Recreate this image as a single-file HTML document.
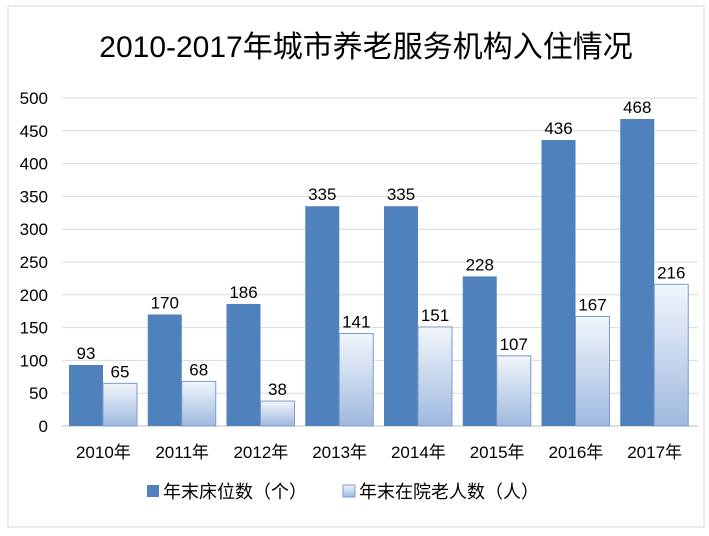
<!DOCTYPE html>
<html><head><meta charset="utf-8"><style>
body{margin:0;background:#fff;width:709px;height:531px;overflow:hidden}
svg text{font-family:"Liberation Sans","Noto Sans CJK SC",sans-serif;fill:#000}
</style></head><body>
<svg width="709" height="531">
<defs><linearGradient id="lg" x1="0" y1="0" x2="0" y2="1"><stop offset="0" stop-color="#f2f6fc"/><stop offset="1" stop-color="#9fb9de"/></linearGradient></defs>
<rect x="8" y="6" width="696" height="521" fill="#fff" stroke="#d9d9d9"/>
<text x="366" y="57" font-size="30" text-anchor="middle">2010-2017年城市养老服务机构入住情况</text>
<g id="grid"></g><g id="bars"></g>
<g>
<rect x="147" y="485" width="12" height="12" fill="#4f81bd"/>
<text x="163" y="498" font-size="18">年末床位数（个）</text>
<rect x="343" y="485" width="12" height="12" fill="url(#lg)" stroke="#7a9bcf"/>
<text x="359" y="498" font-size="18">年末在院老人数（人）</text>
</g>
</svg>
<script>
const categories=["2010年","2011年","2012年","2013年","2014年","2015年","2016年","2017年"];
const beds=[93,170,186,335,335,228,436,468];
const residents=[65,68,38,141,151,107,167,216];
const ticks=[0,50,100,150,200,250,300,350,400,450,500];
const NS="http://www.w3.org/2000/svg";
const x0=62,x1=692,y0=426,yTop=98,ymax=500;
const cw=(x1-x0)/categories.length;
const y=v=>y0-(y0-yTop)*v/ymax;
function mk(t,a,p){const e=document.createElementNS(NS,t);for(const k in a)e.setAttribute(k,a[k]);p.appendChild(e);return e;}
const g=document.getElementById('grid'),b=document.getElementById('bars');
ticks.forEach(t=>{
 const l=mk('line',{x1:x0,x2:x1+6,y1:y(t),y2:y(t),stroke:t===0?'#bfbfbf':'#d9d9d9'},g);
 
 
 const tx=mk('text',{x:48,y:y(t)+6,'font-size':17,'text-anchor':'end'},g);tx.textContent=t;
 
 
});
categories.forEach((c,i)=>{
 const cx=x0+cw*i,bw=34,bx=cx+7;
 const r1=mk('rect',{x:bx,y:y(beds[i]),width:bw,height:y0-y(beds[i]),fill:'#4f81bd'},b);
 
 
 const r2=mk('rect',{x:bx+bw,y:y(residents[i]),width:bw,height:y0-y(residents[i]),fill:'url(#lg)',stroke:'#7a9bcf'},b);
 
 
 const t1=mk('text',{x:bx+bw/2,y:y(beds[i])-6,'font-size':17,'text-anchor':'middle'},b);t1.textContent=beds[i];
 
 
 const t2=mk('text',{x:bx+bw*1.5,y:y(residents[i])-6,'font-size':17,'text-anchor':'middle'},b);t2.textContent=residents[i];
 
 
 const xl=mk('text',{x:cx+cw/2+2,y:458,'font-size':17,'text-anchor':'middle'},b);xl.textContent=c;
 
 
});
</script>
</body></html>
